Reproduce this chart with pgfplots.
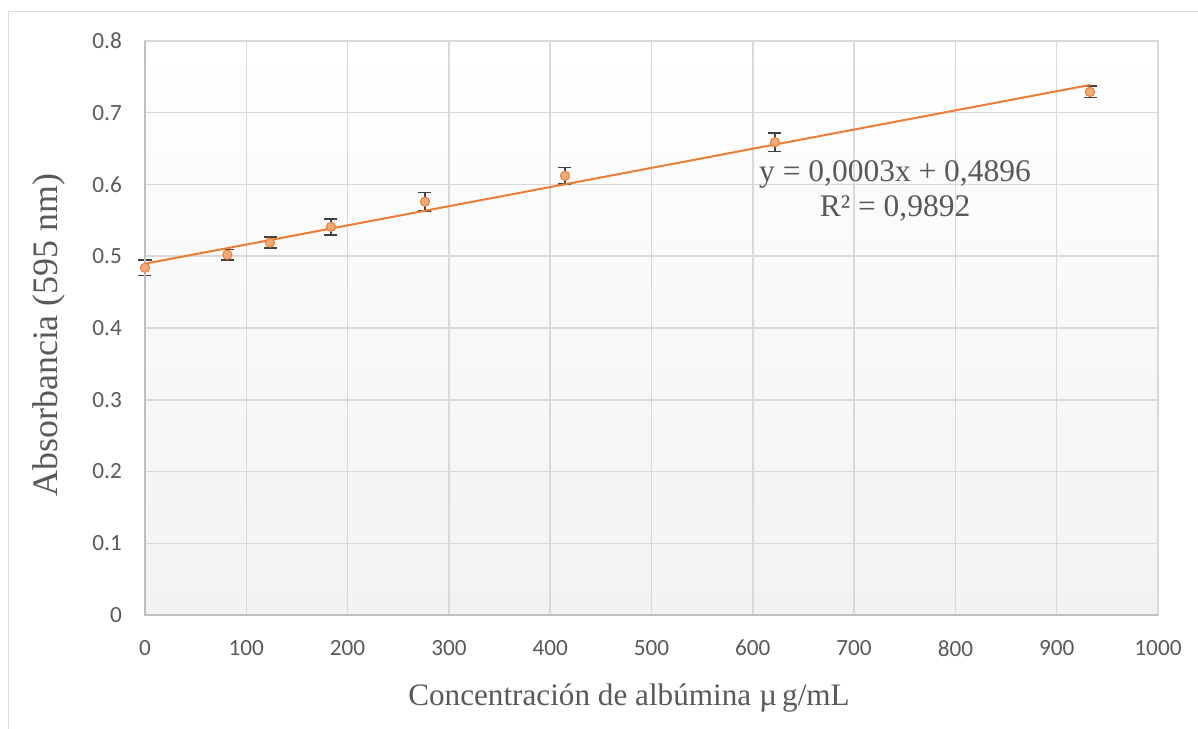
\documentclass[border=0pt]{standalone}
\usepackage{fontspec}
\setmainfont{Liberation Serif}
\newfontfamily\calibri{Carlito}
\usepackage{pgfplots}
\pgfplotsset{compat=1.18}
\definecolor{txt}{HTML}{595959}
\definecolor{gridc}{HTML}{D9D9D9}
\definecolor{axc}{HTML}{BFBFBF}
\definecolor{bgbot}{HTML}{F2F2F2}
\definecolor{orng}{HTML}{ED7D31}
\definecolor{orngl}{HTML}{F4A97A}
\definecolor{errc}{HTML}{404040}
\begin{document}
\begin{tikzpicture}
\path[use as bounding box] (-145bp,-114bp) rectangle (1053bp,615bp);
\draw[color=gridc, line width=0.8bp] (-137bp,-114bp) -- (-137bp,604bp) -- (1053bp,604bp);
\begin{axis}[
  at={(0,0)}, anchor=south west,
  scale only axis, width=1013bp, height=574bp,
  xmin=0, xmax=1000, ymin=0, ymax=0.8,
  xtick={0,100,200,300,400,500,600,700,800,900,1000},
  ytick={0,0.1,0.2,0.3,0.4,0.5,0.6,0.7,0.8},
  yticklabels={0,0.1,0.2,0.3,0.4,0.5,0.6,0.7,0.8},
  xticklabels={0,100,200,300,400,500,600,700,800,900,1000},
  major tick length=0pt,
  grid=major,
  major grid style={color=gridc, line width=1.5bp},
  axis line style={color=gridc, line width=1.5bp},
  axis background/.style={shade, top color=white, bottom color=bgbot},
  ticklabel style={font=\calibri\fontsize{23.3}{23.3}\selectfont, text=txt, inner sep=0pt},
  yticklabel style={xshift=-23bp},
  xticklabel style={yshift=-25bp},
  clip=false,
]
\addplot[only marks, mark=*, mark size=4.6bp,
  mark options={fill=orngl, draw=orng, line width=1bp},
  error bars/.cd, y dir=both, y explicit,
  error bar style={color=errc, line width=1.5bp},
  error mark options={rotate=90, mark size=6.5bp, color=errc, line width=1.6bp}]
  coordinates {
  (0,0.484) +- (0,0.011)
  (81.3,0.502) +- (0,0.0075)
  (123.4,0.519) +- (0,0.0075)
  (183.6,0.541) +- (0,0.011)
  (276.4,0.576) +- (0,0.013)
  (414.6,0.612) +- (0,0.0116)
  (621.9,0.659) +- (0,0.013)
  (932.9,0.729) +- (0,0.008)
  };
\addplot[color=orng, line width=2bp, no marks] coordinates {(0,0.4896) (933,0.7388)};
\draw[color=axc, line width=1.5bp] (axis cs:0,0.8) -- (axis cs:0,0) -- (axis cs:1000,0);
\end{axis}
\node[text=txt, font=\fontsize{31.3}{31.3}\selectfont, anchor=base] at (484bp,-90bp) {Concentración de albúmina µ\,g/mL};
\node[text=txt, font=\fontsize{36}{36}\selectfont, rotate=90, anchor=center] at (-96bp,280bp) {Absorbancia (595 nm)};
\node[text=txt, font=\fontsize{31.6}{31.6}\selectfont, anchor=base] at (750bp,433bp) {y = 0,0003x + 0,4896};
\node[text=txt, font=\fontsize{31.6}{31.6}\selectfont, anchor=base] at (750bp,398bp) {R² = 0,9892};
\end{tikzpicture}
\end{document}
